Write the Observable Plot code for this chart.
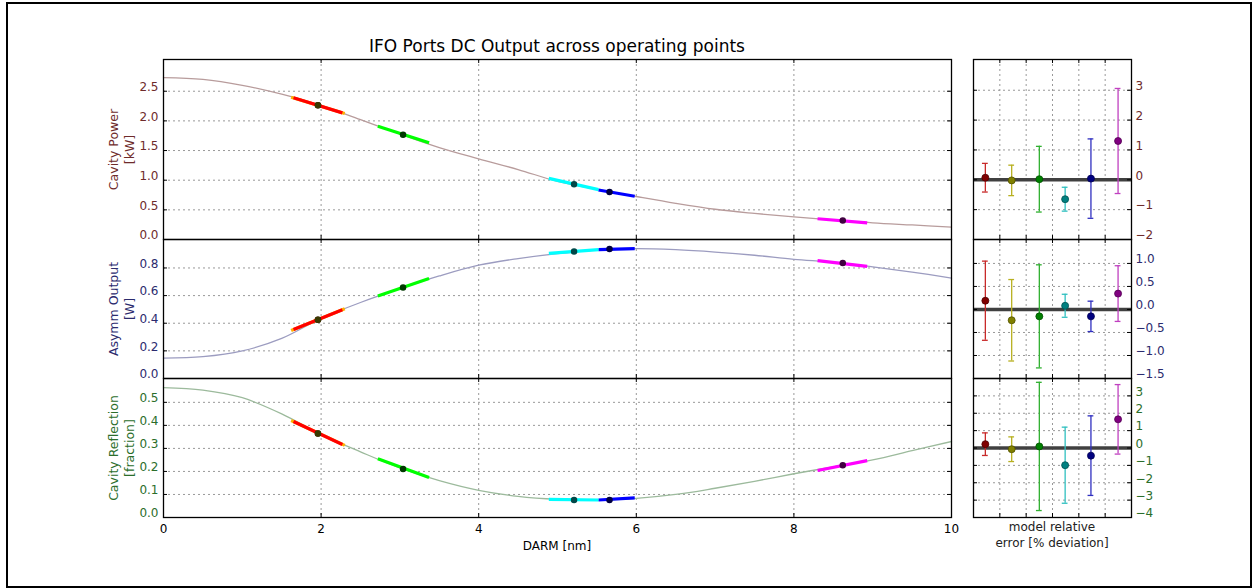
<!DOCTYPE html>
<html>
<head>
<meta charset="utf-8">
<script src="https://cdn.jsdelivr.net/npm/d3@7"></script>
<script src="https://cdn.jsdelivr.net/npm/@observablehq/plot@0.6"></script>
<style>
  html, body { margin: 0; padding: 0; background: #fff; }
  #fig { position: relative; width: 1252px; height: 588px; font-family: "DejaVu Sans", sans-serif; overflow: hidden; }
  #fig svg { position: absolute; overflow: visible; }
  .txt { position: absolute; white-space: nowrap; text-align: center; color: #000; }
</style>
</head>
<body>
<div id="fig">
  <div style="position:absolute;left:6px;top:2px;width:1246px;height:586px;box-sizing:border-box;border:2px solid #000;"></div>
  <div class="txt" id="title" style="left:307px;width:500px;top:36px;font-size:17px;line-height:20px;">IFO Ports DC Output across operating points</div>
  <div class="txt" style="left:457px;width:200px;top:539px;font-size:12px;">DARM [nm]</div>
  <div class="txt" style="left:952px;width:200px;top:519px;font-size:12px;line-height:16px;color:#222;">model relative<br>error [% deviation]</div>
</div>
<script>
// ---------- data ----------
const darm = [0, 0.5, 1, 1.5, 2, 2.5, 3, 3.5, 4, 4.5, 5, 5.5, 6, 6.5, 7, 7.5, 8, 8.5, 9, 9.5, 10];
const cavityPower = [2.73, 2.70, 2.60, 2.45, 2.26, 2.02, 1.78, 1.55, 1.36, 1.18, 0.98, 0.845, 0.725, 0.61, 0.51, 0.44, 0.38, 0.33, 0.28, 0.245, 0.21];
const asymmOutput = [0.147, 0.158, 0.20, 0.29, 0.435, 0.55, 0.65, 0.742, 0.82, 0.868, 0.904, 0.93, 0.94, 0.932, 0.915, 0.892, 0.862, 0.842, 0.808, 0.77, 0.727];
const cavityRefl = [0.564, 0.553, 0.52, 0.45, 0.36, 0.285, 0.215, 0.16, 0.118, 0.092, 0.079, 0.075, 0.083, 0.10, 0.127, 0.157, 0.19, 0.22, 0.25, 0.29, 0.33];

// operating points (red, yellow, green, cyan, blue, magenta)
const opX = [1.96, 1.96, 3.04, 5.21, 5.66, 8.62];
const opPower = [2.265, 2.265, 1.765, 0.93, 0.80, 0.32];
const opAsymm = [0.425, 0.425, 0.658, 0.919, 0.938, 0.836];
const opRefl = [0.365, 0.365, 0.211, 0.076, 0.076, 0.227];

// linearised segments around each operating point
const segX1 = [1.65, 1.62, 2.72, 4.89, 5.52, 8.30];
const segX2 = [2.27, 2.30, 3.37, 5.52, 5.98, 8.93];
const segPowerY1 = [2.39, 2.40, 1.91, 1.03, 0.835, 0.35];
const segPowerY2 = [2.135, 2.125, 1.63, 0.84, 0.73, 0.28];
const segAsymmY1 = [0.355, 0.348, 0.597, 0.906, 0.933, 0.853];
const segAsymmY2 = [0.498, 0.505, 0.723, 0.933, 0.94, 0.812];
const segReflY1 = [0.417, 0.421, 0.255, 0.0785, 0.076, 0.204];
const segReflY2 = [0.317, 0.313, 0.174, 0.076, 0.085, 0.247];
const segLayer = [1, 0, 2, 4, 3, 5];

// model relative error [% deviation]
const errX = [0.45, 1.45, 2.5, 3.48, 4.46, 5.49];
const powerErr = [0.07, -0.02, 0.02, -0.65, 0.04, 1.30];
const powerErrBar = [0.48, 0.51, 1.10, 0.40, 1.33, 1.76];
const asymmErr = [0.19, -0.235, -0.15, 0.08, -0.15, 0.345];
const asymmErrBar = [0.86, 0.885, 1.12, 0.25, 0.33, 0.605];
const reflErr = [0.22, -0.07, 0.09, -0.99, -0.44, 1.65];
const reflErrBar = [0.65, 0.71, 3.69, 2.19, 2.29, 2.00];

// tick labels
const xTicks = [0, 2, 4, 6, 8, 10];
const powerTicks = [0, 0.5, 1.0, 1.5, 2.0, 2.5];
const asymmTicks = [0, 0.2, 0.4, 0.6, 0.8];
const reflTicks = [0, 0.1, 0.2, 0.3, 0.4, 0.5];
const errXTicks = [1, 2, 3, 4, 5];
const powerErrTicks = [-2, -1, 0, 1, 2, 3];
const asymmErrTicks = [-1.5, -1.0, -0.5, 0, 0.5, 1.0];
const reflErrTicks = [-4, -3, -2, -1, 0, 1, 2, 3];

// ---------- styles ----------
const segColors = ["#ff0000", "#ffb000", "#00ff00", "#00ffff", "#0000ff", "#ff00ff"];
const dotColors = ["#3a0000", "#3a3a00", "#003a00", "#004848", "#000040", "#400040"];
const errBarColors = ["#c82a2a", "#b8b020", "#30b030", "#30c0c0", "#3030c0", "#c040c0"];
const markerColors = ["#800000", "#808000", "#008000", "#008080", "#000080", "#800080"];
const markerEdge = ["#500000", "#505000", "#005000", "#005050", "#000050", "#500050"];

const fig = document.getElementById("fig");
const FONT = {fontFamily: "DejaVu Sans, sans-serif", fontSize: "12px", background: "transparent", overflow: "visible"};
const gridStyle = {stroke: "#999", strokeOpacity: 1, strokeDasharray: "2,3", strokeWidth: 1};

function innerTicks(xt, yt, fwidth, fheight) {
  return [
    Plot.tickY(yt, {y: d => d, insetRight: fwidth - 4, stroke: "#000"}),
    Plot.tickY(yt, {y: d => d, insetLeft: fwidth - 4, stroke: "#000"}),
    Plot.tickX(xt, {x: d => d, insetBottom: fheight - 4, stroke: "#000"}),
    Plot.tickX(xt, {x: d => d, insetTop: fheight - 4, stroke: "#000"})
  ];
}

const LEFT_X0 = 163, LEFT_W = 788, RIGHT_X0 = 973, RIGHT_W = 158;
const panels = [
  {top: 59, h: 180, domain: [0, 3.035], ticks: powerTicks, curve: cavityPower, curveColor: "#b89c9c",
   y1: segPowerY1, y2: segPowerY2, opY: opPower, label: "Cavity Power\n[kW]", color: "#6e2b2b",
   err: powerErr, errBar: powerErrBar, errDomain: [-2, 4.03], errTicks: powerErrTicks, errFmt: d3.format("d")},
  {top: 239, h: 139, domain: [0, 1.006], ticks: asymmTicks, curve: asymmOutput, curveColor: "#9c9cc0",
   y1: segAsymmY1, y2: segAsymmY2, opY: opAsymm, label: "Asymm Output\n[W]", color: "#2b2b6e",
   err: asymmErr, errBar: asymmErrBar, errDomain: [-1.5, 1.52], errTicks: asymmErrTicks, errFmt: d3.format(".1f")},
  {top: 378, h: 139, domain: [0, 0.6035], ticks: reflTicks, curve: cavityRefl, curveColor: "#9cba9c",
   y1: segReflY1, y2: segReflY2, opY: opRefl, label: "Cavity Reflection\n[fraction]", color: "#2b6e2b",
   err: reflErr, errBar: reflErrBar, errDomain: [-4, 4.0], errTicks: reflErrTicks, errFmt: d3.format("d"), bottom: true}
];

panels.forEach((p) => {
  const segs = opX.map((_, i) => ({x1: segX1[i], x2: segX2[i], y1: p.y1[i], y2: p.y2[i], color: segColors[i], layer: segLayer[i]}));
  const dots = opX.map((x, i) => ({x, y: p.opY[i], color: dotColors[i]}));
  const mL = 100, mR = 6, mT = 5, mB = p.bottom ? 45 : 5;
  const left = Plot.plot({
    width: mL + LEFT_W + mR, height: mT + p.h + mB,
    marginLeft: mL, marginRight: mR, marginTop: mT, marginBottom: mB,
    style: FONT,
    x: {domain: [0, 10], axis: null},
    y: {domain: p.domain, axis: null},
    color: {type: "identity"},
    marks: [
      Plot.gridY(p.ticks, gridStyle),
      Plot.gridX(xTicks, gridStyle),
      Plot.line(darm, {x: darm, y: p.curve, stroke: p.curveColor, strokeWidth: 1.3, curve: "catmull-rom"}),
      Plot.link(segs, {x1: "x1", y1: "y1", x2: "x2", y2: "y2", stroke: "color", strokeWidth: 3.2, sort: d => d.layer}),
      Plot.dot(dots, {x: "x", y: "y", r: 2.5, fill: "color", stroke: "color"}),
      ...innerTicks(xTicks, p.ticks, LEFT_W, p.h),
      Plot.frame({stroke: "#000", strokeWidth: 1.3}),
      Plot.axisY(p.ticks, {tickSize: 0, tickPadding: 5, tickFormat: d3.format(".1f"), fill: p.color, dy: -4, label: null, fontSize: 12}),
      p.bottom ? Plot.axisX(xTicks, {tickSize: 0, tickPadding: 7, fill: "#000", label: null, fontSize: 12}) : null,
      Plot.text([p.label], {text: d => d, frameAnchor: "left", rotate: -90, dx: -43, fill: p.color, fontSize: 12.5, lineHeight: 1.3, textAnchor: "middle", lineAnchor: "middle"})
    ]
  });
  left.style.left = (LEFT_X0 - mL) + "px";
  left.style.top = (p.top - mT) + "px";
  fig.appendChild(left);

  const errs = errX.map((x, i) => ({x, v: p.err[i], lo: p.err[i] - p.errBar[i], hi: p.err[i] + p.errBar[i],
    bar: errBarColors[i], mk: markerColors[i], edge: markerEdge[i]}));
  const capHalf = 0.11;
  const rL = 5, rR = 45;
  const right = Plot.plot({
    width: rL + RIGHT_W + rR, height: mT + p.h + 5,
    marginLeft: rL, marginRight: rR, marginTop: mT, marginBottom: 5,
    style: FONT,
    x: {domain: [0, 6], axis: null},
    y: {domain: p.errDomain, axis: null},
    color: {type: "identity"},
    marks: [
      Plot.gridY(p.errTicks, gridStyle),
      Plot.gridX(errXTicks, gridStyle),
      Plot.ruleY([0], {stroke: "#404040", strokeWidth: 3.5}),
      Plot.ruleX(errs, {x: "x", y1: "lo", y2: "hi", stroke: "bar", strokeWidth: 1.3}),
      Plot.ruleY(errs, {y: "hi", x1: d => d.x - capHalf, x2: d => d.x + capHalf, stroke: "bar", strokeWidth: 1.3}),
      Plot.ruleY(errs, {y: "lo", x1: d => d.x - capHalf, x2: d => d.x + capHalf, stroke: "bar", strokeWidth: 1.3}),
      Plot.dot(errs, {x: "x", y: "v", r: 3.5, fill: "mk", stroke: "edge", strokeWidth: 0.8}),
      ...innerTicks(errXTicks, p.errTicks, RIGHT_W, p.h),
      Plot.frame({stroke: "#000", strokeWidth: 1.3}),
      Plot.axisY(p.errTicks, {anchor: "right", tickSize: 0, tickPadding: 4, tickFormat: p.errFmt, fill: p.color, dy: -4, label: null, fontSize: 12})
    ]
  });
  right.style.left = (RIGHT_X0 - rL) + "px";
  right.style.top = (p.top - mT) + "px";
  fig.appendChild(right);
});
</script>
</body>
</html>
